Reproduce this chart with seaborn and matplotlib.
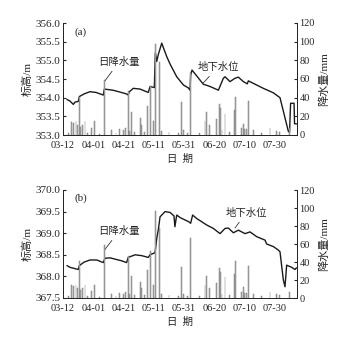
import matplotlib
matplotlib.use("Agg")
import matplotlib.pyplot as plt
import seaborn as sns
import pandas as pd

# 日期轴：以 03-12 为第 0 天
tick_days = [0, 20, 40, 60, 80, 100, 120, 140]
tick_labels = ['03-12', '04-01', '04-21', '05-11', '05-31', '06-20', '07-10', '07-30']

# 日降水量 (mm)
rain_day = [3.5, 5.7, 7, 8.6, 9.5, 10.6, 11.8, 13, 14.5, 16, 19, 21, 24, 27.3, 32, 35,
            37.6, 40, 41.5, 43, 44, 45, 47, 51, 52, 54, 56, 57.5, 60, 61, 63.5, 65, 70,
            76, 78.4, 79.5, 82, 84.3, 90, 93.8, 94.9, 96.7, 101.5, 103.3, 104, 105, 107,
            110, 113, 114, 118, 119, 120, 121, 122.4, 126, 131, 136.7, 141, 143, 149.5]
rain_mm = [2, 14, 13, 15, 11, 41, 9, 11, 15, 2, 7.5, 15, 1.5, 59, 5, 2,
           6, 5, 7, 47, 4, 25, 3, 18, 11, 3, 31, 52, 15, 97, 78, 4, 3,
           2, 35, 5, 2, 67, 2, 15, 25, 11, 17, 33, 29, 5, 23,
           3, 27, 41, 7, 12, 6, 6, 36, 5, 2, 7, 4, 3, 7]

# (a) 地下水位 (m)
day_a = [2.6, 4.6, 6.8, 7.9, 10.1, 10.8, 13.9, 17.8, 21.8, 26.6, 27.3, 33, 37.6, 42,
         43.1, 43.6, 46.4, 50.9, 56.3, 57.5, 60.3, 61, 61.9, 62.9, 65.2, 68.5, 70.7,
         75.1, 79.5, 82.8, 83.9, 84.3, 85.2, 90.5, 92.7, 97.1, 102.6, 105.9, 107, 110.3,
         113.6, 115.8, 119.1, 121.7, 122.4, 132.3, 138.9, 143.3, 148.8, 149.6, 150.3,
         152.6, 152.9, 154.2]
level_a = [353.95, 353.91, 353.82, 353.88, 353.9, 354.03, 354.1, 354.16, 354.14, 354.07,
           354.23, 354.2, 354.15, 354.1, 354.07, 354.15, 354.25, 354.23, 354.14, 354.3,
           354.27, 355.2, 354.97, 355.15, 355.46, 355.1, 354.9, 354.56, 354.34, 354.26,
           354.2, 354.6, 354.74, 354.47, 354.36, 354.3, 354.2, 354.52, 354.56, 354.43,
           354.52, 354.55, 354.43, 354.37, 354.45, 354.25, 354.13, 354.0, 353.1, 353.07,
           353.85, 353.85, 353.3, 353.3]

# (b) 地下水位 (m)
day_b = [2.6, 4.6, 10.1, 10.8, 13.9, 17.8, 22.3, 26.6, 27.7, 31, 38.8, 42, 43.1, 47.6,
         52, 56.3, 57.5, 60.8, 61.9, 62.9, 64.1, 67.4, 70.7, 73.3, 73.9, 75.1, 77.4, 82.8,
         84.3, 85.6, 88.3, 94.9, 99.3, 103.7, 107, 109.2, 112.5, 115.8, 120.2, 123.5,
         127.9, 133.4, 134.5, 138.9, 142.2, 143.3, 145.5, 146.6, 147.7, 151, 153.2, 154.2]
level_b = [368.25, 368.21, 368.16, 368.25, 368.33, 368.38, 368.38, 368.32, 368.42, 368.43,
           368.36, 368.32, 368.44, 368.5, 368.48, 368.44, 368.5, 368.55, 368.88, 369.07,
           369.38, 369.5, 369.48, 369.4, 369.15, 369.42, 369.36, 369.27, 369.23, 369.42,
           369.34, 369.19, 369.11, 368.99, 369.11, 369.12, 369.01, 369.07, 368.99, 369.03,
           368.92, 368.84, 368.75, 368.69, 368.61, 368.57, 367.92, 367.76, 368.26, 368.21,
           368.16, 368.2]

sns.set_style("ticks")
plt.rcParams['font.family'] = ['Liberation Serif', 'Noto Sans CJK SC']
plt.rcParams['axes.linewidth'] = 0.7

fig = plt.figure(figsize=(3.55, 3.42), dpi=100)

panels = [
    dict(pos=[63 / 355, 1 - 135 / 342, 233.5 / 355, 112 / 342], day=day_a, level=level_a,
         ylim=(353.0, 356.0), tag='(a)', rain_txt=(37, 354.96), rain_xy=(27.7, 354.45),
         gw_txt=(102.4, 354.82), gw_xy=(92.5, 354.39)),
    dict(pos=[63 / 355, 1 - 298 / 342, 233.5 / 355, 108 / 342], day=day_b, level=level_b,
         ylim=(367.5, 370.0), tag='(b)', rain_txt=(37, 369.05), rain_xy=(27.4, 368.61),
         gw_txt=(120.9, 369.47), gw_xy=(113.6, 369.12)),
]

for p in panels:
    ax = fig.add_axes(p['pos'])
    df = pd.DataFrame({'day': p['day'], 'level': p['level']})
    sns.lineplot(data=df, x='day', y='level', ax=ax, color='#1a1a1a', linewidth=1.0)
    ax.set_xlim(0, 154.2)
    ax.set_ylim(*p['ylim'])
    ax.set_yticks([p['ylim'][0] + 0.5 * i for i in range(7) if p['ylim'][0] + 0.5 * i <= p['ylim'][1]])
    ax.set_yticklabels([f'{v:.1f}' for v in ax.get_yticks()])
    ax.set_xticks(tick_days)
    ax.set_xticklabels(tick_labels)
    ax.tick_params(axis='y', direction='in', length=2.5, labelsize=8, pad=2)
    ax.tick_params(axis='x', direction='in', length=0, labelsize=7.5, pad=4)
    ax.set_xlabel('日  期', fontsize=7.5, labelpad=3)
    ax.set_ylabel('标高/m', fontsize=8, labelpad=2)
    ax.spines['top'].set_visible(False)
    ax.text(0.075, 0.92, p['tag'], transform=ax.transAxes, fontsize=8, ha='center', va='center')

    ax2 = ax.twinx()
    ax2.bar(rain_day, rain_mm, width=0.6, color='#b4b4b4', edgecolor='#6e6e6e', linewidth=0.3)
    ax2.set_ylim(0, 120)
    ax2.set_yticks(range(0, 121, 20))
    ax2.tick_params(axis='y', direction='in', length=2.5, labelsize=7.5, pad=2)
    ax2.set_ylabel('降水量/mm', fontsize=8, labelpad=3)
    ax2.spines['top'].set_visible(False)

    ax.annotate('日降水量', xy=p['rain_xy'], xytext=p['rain_txt'], fontsize=7.5,
                ha='center', va='center', zorder=10,
                arrowprops=dict(arrowstyle='-', lw=0.6, color='#333333', shrinkA=1, shrinkB=0))
    ax.annotate('地下水位', xy=p['gw_xy'], xytext=p['gw_txt'], fontsize=7.5,
                ha='center', va='center', zorder=10,
                arrowprops=dict(arrowstyle='-', lw=0.6, color='#333333', shrinkA=1, shrinkB=0))

fig.savefig('out.png', dpi=100)
